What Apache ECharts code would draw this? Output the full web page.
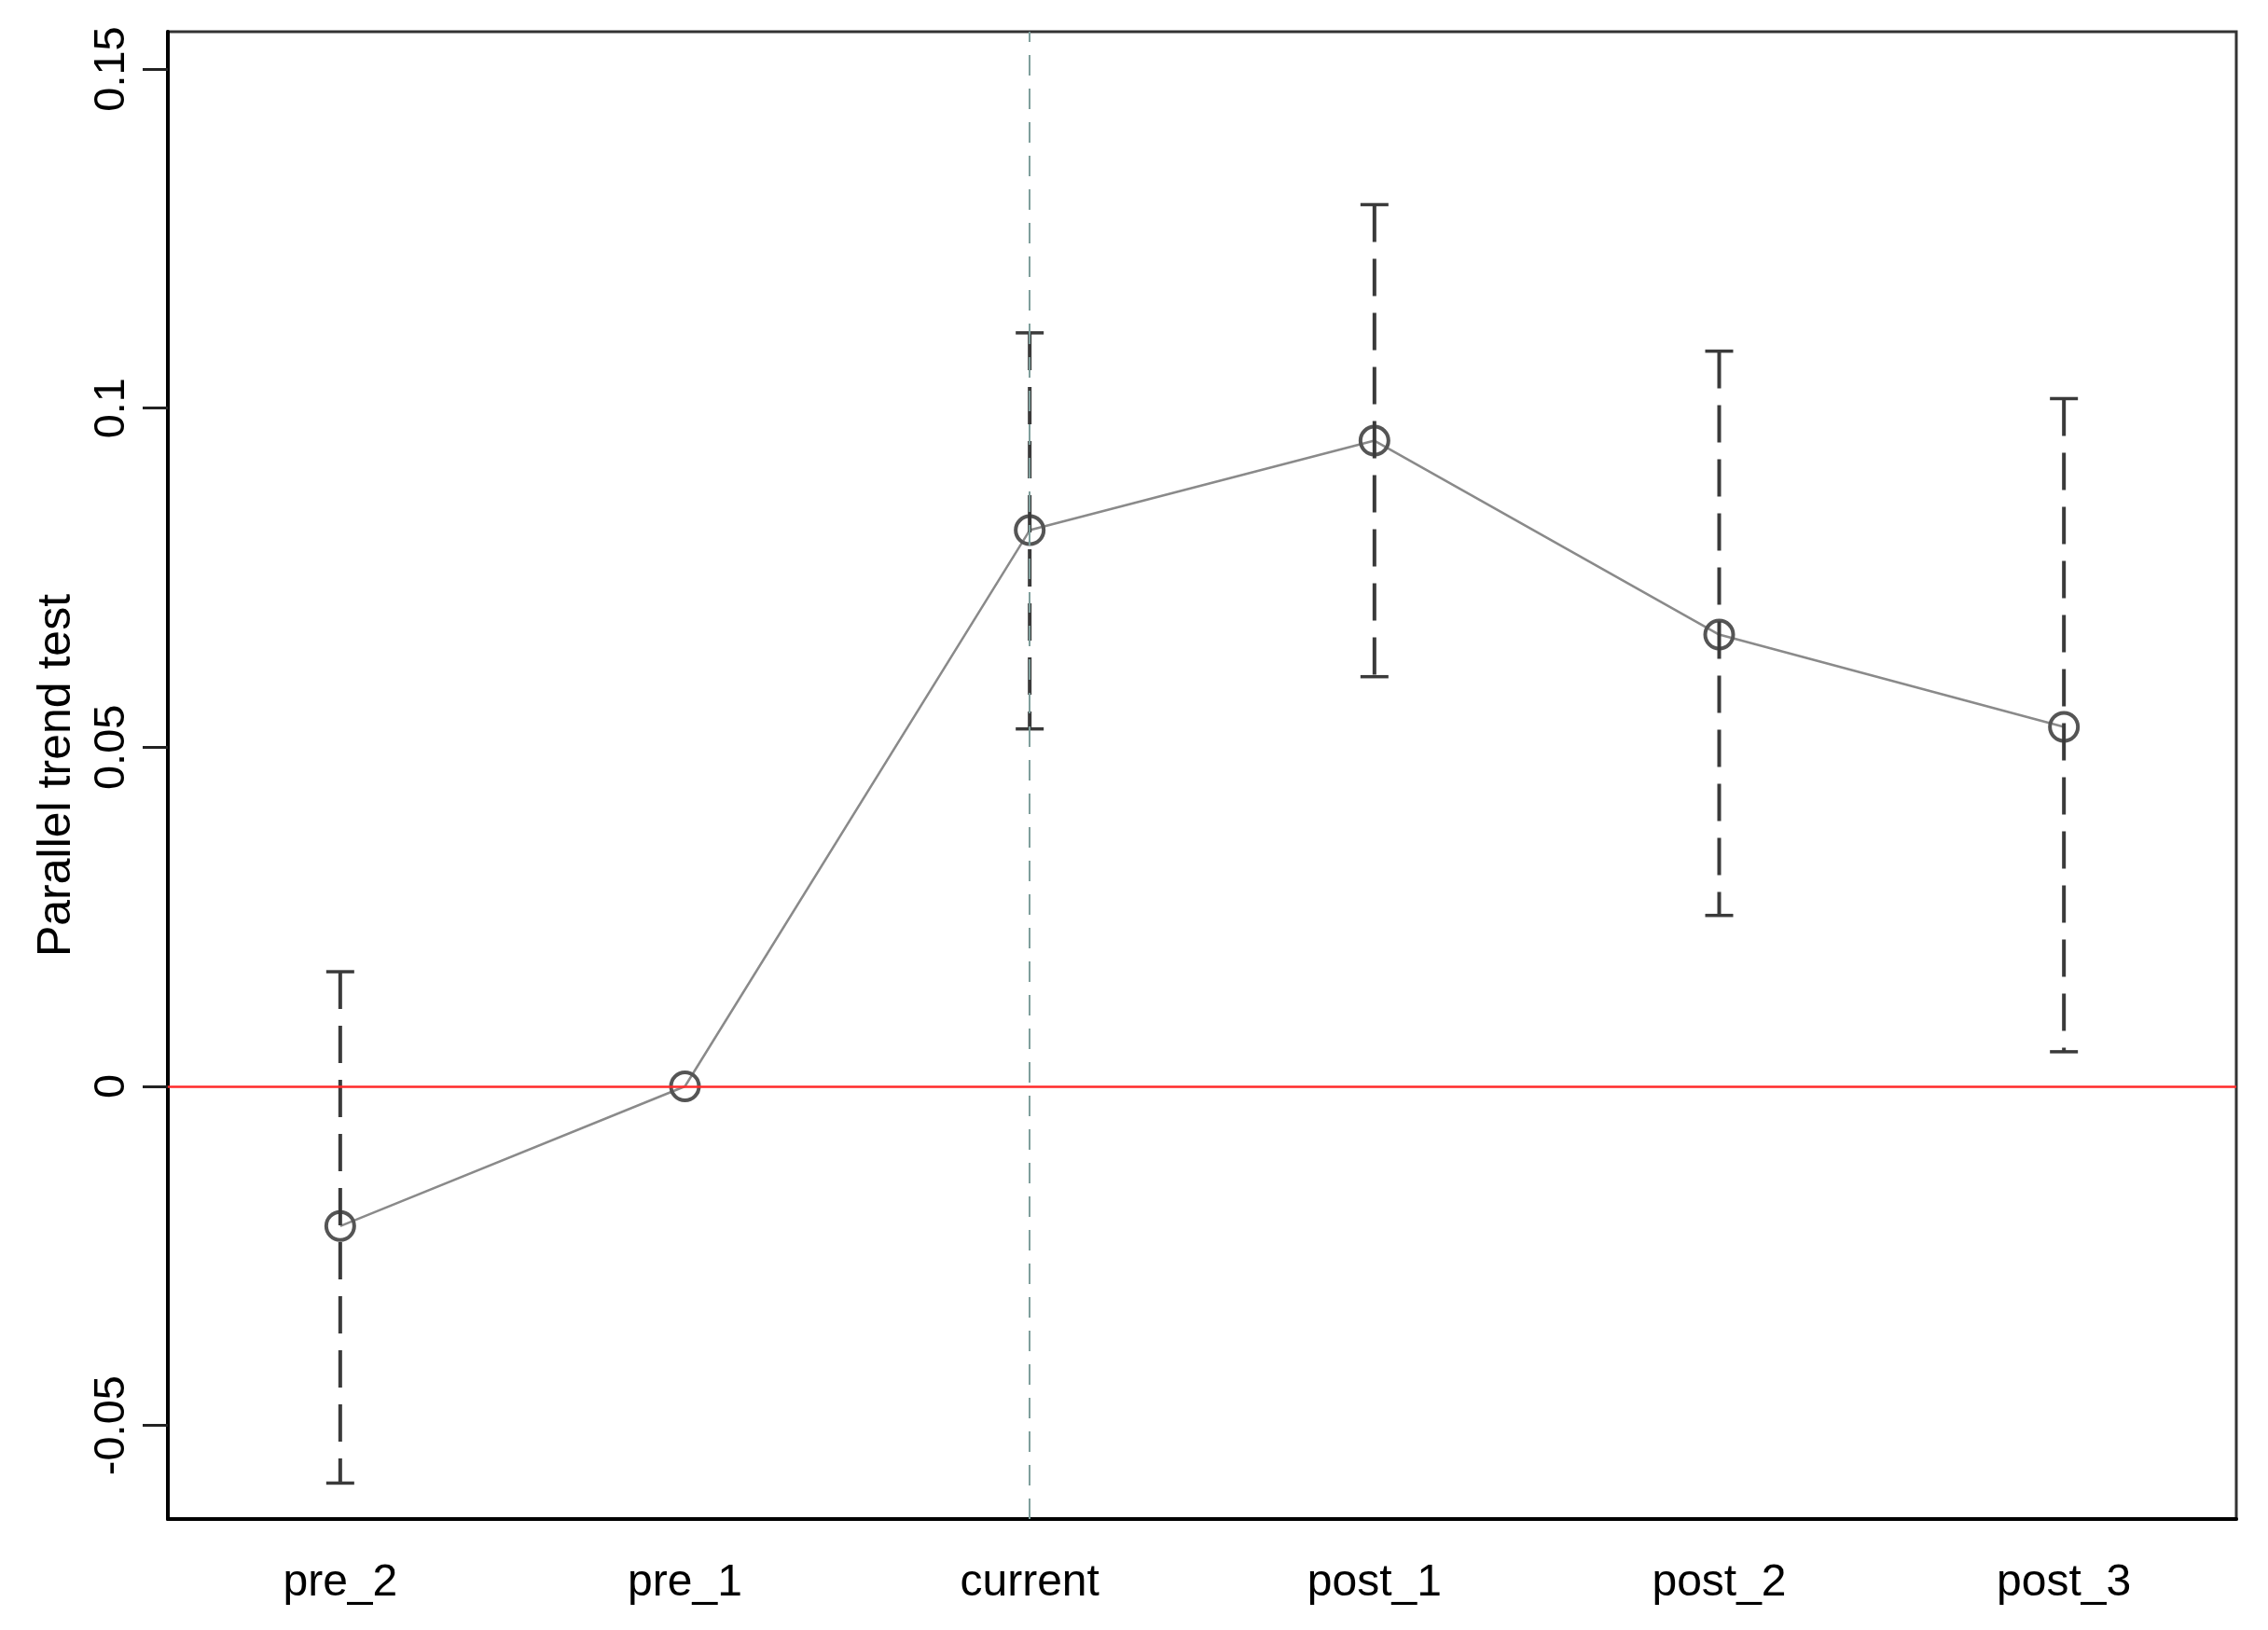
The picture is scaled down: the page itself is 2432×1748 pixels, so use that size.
<!DOCTYPE html>
<html>
<head>
<meta charset="utf-8">
<script src="https://cdn.jsdelivr.net/npm/echarts@6/dist/echarts.min.js"></script>
<style>
  html, body { margin: 0; padding: 0; background: #fff; }
  #chart { width: 2432px; height: 1748px; }
</style>
</head>
<body>
<div id="chart"></div>
<script>
// categories and estimates
const periods = ['pre_2', 'pre_1', 'current', 'post_1', 'post_2', 'post_3']
const coef = [-0.0206, 0, 0.082, 0.0952, 0.0666, 0.053]
const ciLow = [-0.0585, null, 0.0527, 0.0604, 0.0252, 0.0051]
const ciHigh = [0.0169, null, 0.1111, 0.13, 0.1084, 0.1014]
const yTicks = [-0.05, 0, 0.05, 0.1, 0.15]

const font = 'Liberation Sans, Arial, sans-serif'
const chart = echarts.init(document.getElementById('chart'))

const errData = periods.map((p, i) => [i, ciLow[i], ciHigh[i]]).filter(d => d[1] !== null)

const option = {
  animation: false,
  backgroundColor: '#fff',
  grid: {
    left: 180,
    right: 34,
    top: 34,
    bottom: 119,
    show: true,
    borderColor: '#333',
    borderWidth: 3,
    containLabel: false
  },
  xAxis: {
    type: 'category',
    data: periods,
    boundaryGap: true,
    axisLine: { onZero: false, lineStyle: { color: '#000', width: 4 } },
    axisTick: { alignWithLabel: true, length: 25, lineStyle: { color: '#000', width: 3 } },
    axisLabel: { color: '#000', fontSize: 48, fontFamily: font, margin: 45 },
    splitLine: { show: false }
  },
  yAxis: {
    type: 'value',
    min: -0.0638,
    max: 0.1555,
    name: 'Parallel trend test',
    nameLocation: 'middle',
    nameGap: 94,
    nameTextStyle: { color: '#000', fontSize: 50, fontFamily: font },
    axisLine: { show: true, lineStyle: { color: '#000', width: 4 } },
    axisTick: { show: true, length: 27, customValues: yTicks, lineStyle: { color: '#222', width: 3 } },
    axisLabel: { color: '#000', fontSize: 47, fontFamily: font, rotate: 90, margin: 36, customValues: yTicks },
    splitLine: { show: false }
  },
  series: [
    {
      type: 'line',
      data: coef,
      z: 3,
      lineStyle: { color: '#8a8a8a', width: 2.5 },
      symbol: 'circle',
      symbolSize: 30,
      itemStyle: { color: 'transparent', borderColor: '#555', borderWidth: 4 },
      markLine: {
        silent: true,
        symbol: 'none',
        label: { show: false },
        data: [
          { yAxis: 0, lineStyle: { color: '#ff2a2a', width: 2.5, type: 'solid' } },
          { xAxis: 'current', lineStyle: { color: '#7f9f9c', width: 2, type: [22, 14] } }
        ]
      }
    },
    {
      type: 'custom',
      data: errData,
      z: 4,
      renderItem: (params, api) => {
        const x = api.value(0)
        const lo = api.coord([x, api.value(1)])
        const hi = api.coord([x, api.value(2)])
        const cap = 15
        const style = { stroke: '#3a3a3a', lineWidth: 3.5 }
        return {
          type: 'group',
          children: [
            { type: 'line', shape: { x1: hi[0], y1: hi[1], x2: lo[0], y2: lo[1] }, style: { stroke: '#3a3a3a', lineWidth: 4, lineDash: [40, 18] } },
            { type: 'line', shape: { x1: hi[0] - cap, y1: hi[1], x2: hi[0] + cap, y2: hi[1] }, style },
            { type: 'line', shape: { x1: lo[0] - cap, y1: lo[1], x2: lo[0] + cap, y2: lo[1] }, style }
          ]
        }
      }
    }
  ]
}

chart.setOption(option)
</script>
</body>
</html>
